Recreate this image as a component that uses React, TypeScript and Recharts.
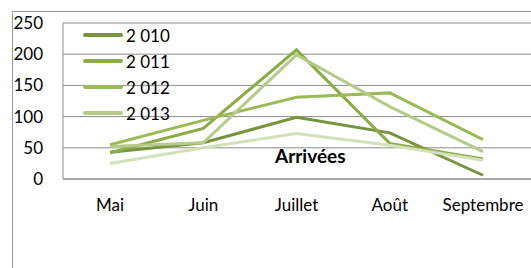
import { CartesianGrid, Line, LineChart, XAxis, YAxis } from "recharts";

const months = ["Mai", "Juin", "Juillet", "Août", "Septembre"];
const arrivees2010 = [43, 58, 99, 74, 6];
const arrivees2011 = [42, 81, 207, 57, 32];
const arrivees2012 = [55, 94, 131, 138, 63];
const arrivees2013 = [52, 58, 199, 116, 44];
const arrivees2014 = [25, 50, 73, 54, 30];
const yTicks = [0, 50, 100, 150, 200, 250];

const SERIES = [
  { key: "a2010", label: "2 010", color: "#77933c", values: arrivees2010, legend: true },
  { key: "a2011", label: "2 011", color: "#8aac47", values: arrivees2011, legend: true },
  { key: "a2012", label: "2 012", color: "#9bbb59", values: arrivees2012, legend: true },
  { key: "a2013", label: "2 013", color: "#b4cb89", values: arrivees2013, legend: true },
  { key: "a2014", label: "2 014", color: "#d3e1ba", values: arrivees2014, legend: false },
];

const data = months.map((m, i) => {
  const row: Record<string, string | number> = { month: m };
  SERIES.forEach((s) => {
    row[s.key] = s.values[i];
  });
  return row;
});

const FONT = "Lato, 'Open Sans', sans-serif";
const FS = 17;

export default function App() {
  return (
    <div
      style={{
        position: "absolute",
        left: 0,
        top: 0,
        width: 531,
        height: 268,
        overflow: "hidden",
        background: "#fff",
      }}
    >
      <div
        style={{
          position: "absolute",
          left: 12,
          top: 11,
          width: 700,
          height: 400,
          border: "1px solid #9a9a9a",
        }}
      />
      <div style={{ position: "absolute", left: 0, top: 0 }}>
        <LineChart width={531} height={268} data={data} margin={{ top: 23, right: 0, bottom: 59, left: 0 }}>
          <CartesianGrid vertical={false} stroke="#8c8c8c" />
          <XAxis
            dataKey="month"
            height={30}
            padding={{ left: 47, right: 48 }}
            axisLine={{ stroke: "#8c8c8c" }}
            tickLine={false}
            tickMargin={14}
            tick={{ fill: "#000", fontSize: FS, fontFamily: FONT }}
          />
          <YAxis
            width={63}
            domain={[0, 250]}
            ticks={yTicks}
            axisLine={{ stroke: "#8c8c8c" }}
            tickLine={false}
            tickMargin={14}
            tick={{ fill: "#000", fontSize: FS, fontFamily: FONT }}
          />
          {SERIES.map((s) => (
            <Line
              key={s.key}
              type="linear"
              dataKey={s.key}
              name={s.label}
              stroke={s.color}
              strokeWidth={3}
              dot={false}
              isAnimationActive={false}
            />
          ))}
        </LineChart>
      </div>
      {/* legend sits over the plot, as in the source */}
      <div style={{ position: "absolute", left: 83, top: 22, fontFamily: FONT, fontSize: FS, color: "#000" }}>
        {SERIES.filter((s) => s.legend).map((s) => (
          <div key={s.key} style={{ display: "flex", alignItems: "center", height: 26 }}>
            <span style={{ width: 40, height: 4, background: s.color, borderRadius: 2, marginRight: 3 }} />
            <span>{s.label}</span>
          </div>
        ))}
      </div>
      <div
        style={{
          position: "absolute",
          left: 275,
          top: 144,
          fontFamily: FONT,
          fontSize: 19,
          fontWeight: 700,
          color: "#000",
        }}
      >
        Arrivées
      </div>
    </div>
  );
}
